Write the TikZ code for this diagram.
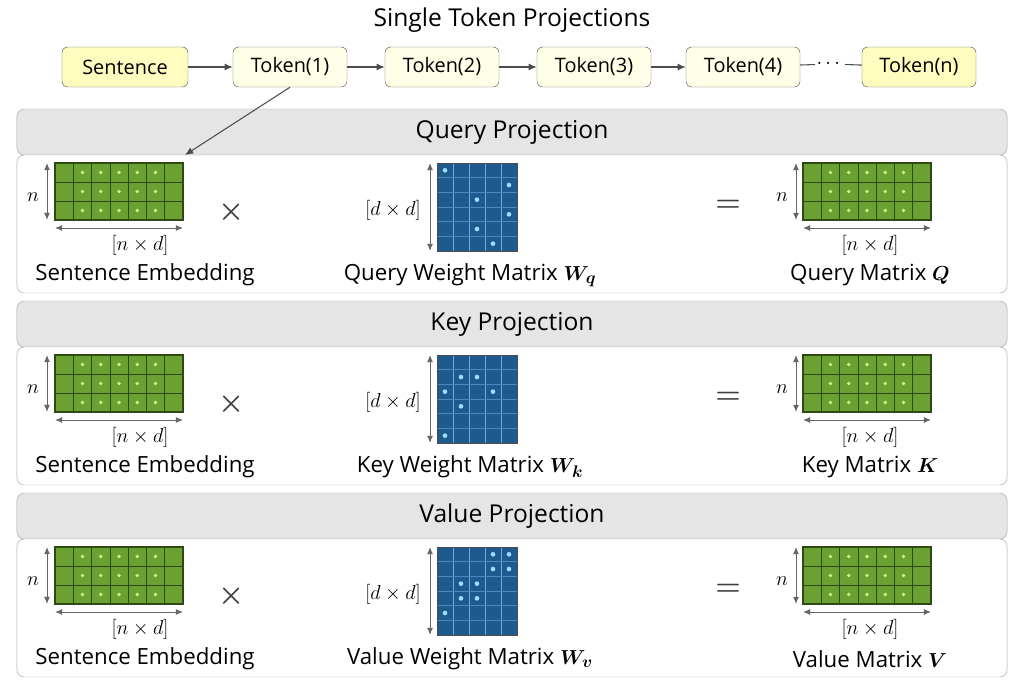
\documentclass[tikz,border=0pt]{standalone}
\usepackage{amsmath,amssymb,bm}
\usepackage{fontspec}
\setmainfont{Open Sans}
\usetikzlibrary{arrows.meta}
\definecolor{gfill}{HTML}{6BA132}
\definecolor{gline}{HTML}{2E4A14}
\definecolor{gdot}{HTML}{D8F08A}
\definecolor{bfill}{HTML}{1F5A8E}
\definecolor{bline}{HTML}{6FA6D6}
\definecolor{bdot}{HTML}{9EDCFF}
\tikzset{
 tok/.style={draw=black!60,rounded corners=5pt,fill=#1,minimum height=1.2cm,font=\fontsize{17}{20}\selectfont,inner sep=0pt},
 arr/.style={draw=black!70,line width=0.9pt,-{Latex[length=7pt,width=6pt]}},
 dim/.style={draw=black!60,line width=0.8pt,{Latex[length=6pt,width=5pt]}-{Latex[length=6pt,width=5pt]}},
 hdr/.style={draw=black!35,fill=black!10,rounded corners=6pt},
 bod/.style={draw=black!35,fill=white,rounded corners=6pt},
 ttl/.style={font=\fontsize{21}{24}\selectfont},
 lab/.style={font=\fontsize{19}{22}\selectfont},
 mlab/.style={font=\fontsize{18}{22}\selectfont},
 op/.style={font=\fontsize{28}{30}\selectfont\bfseries,text=black!75},
}
% green matrix: name, x, y(top), w, h
\newcommand\gmat[5]{%
 \coordinate (#1-nw) at (#2,#3);
 \coordinate (#1-se) at (#2+#4,#3+#5);
 \fill[gfill] (#1-nw) rectangle (#1-se);
 \foreach \i in {1,...,6} \draw[gline,line width=0.6pt] (#2+\i*#4/7,#3) -- ++(0,#5);
 \foreach \j in {1,2} \draw[gline,line width=0.6pt] (#2,#3+\j*#5/3) -- ++(#4,0);
 \draw[gline,line width=0.9pt] (#1-nw) rectangle (#1-se);
 \foreach \i in {1,...,5} \foreach \j in {0,1,2} \fill[gdot] (#2+\i*#4/7+#4/14,#3+\j*#5/3+#5/6) circle (1.6pt);
}
% blue matrix: name, x, y, dots (macro)
\newcommand\bmat[4]{%
 \coordinate (#1-nw) at (#2,#3);
 \coordinate (#1-se) at (#2+80,#3+88);
 \fill[bfill] (#1-nw) rectangle (#1-se);
 \foreach \i in {1,...,4} \draw[bline,line width=0.5pt] (#2+\i*16,#3) -- ++(0,88);
 \foreach \j in {1,...,5} \draw[bline!60!bfill,line width=0.5pt] (#2,#3+\j*88/6) -- ++(80,0);
 \draw[black!70,line width=0.6pt] (#1-nw) rectangle (#1-se);
 \foreach \a/\b in #4 \fill[bdot] (#2+\a*16+8,#3+\b*88/6+88/12) circle (2pt);
}
\begin{document}
\begin{tikzpicture}[x=0.03cm,y=-0.03cm]
\useasboundingbox (0,0) rectangle (1024,682);
\node[ttl] (title) at (512,20) {Single Token Projections};
\node[tok=yellow!25!white,minimum width=3.78cm] (s) at (125,67) {Sentence};
\node[tok=yellow!10!white,minimum width=3.42cm] (t1) at (290,67) {Token(1)};
\node[tok=yellow!10!white,minimum width=3.42cm] (t2) at (442,67) {Token(2)};
\node[tok=yellow!10!white,minimum width=3.42cm] (t3) at (594,67) {Token(3)};
\node[tok=yellow!10!white,minimum width=3.42cm] (t4) at (743,67) {Token(4)};
\node[font=\fontsize{17}{20}\selectfont,inner sep=1pt] (dots) at (830,64) {$\cdots$};
\node[tok=yellow!25!white,minimum width=3.42cm] (tn) at (919,67) {Token(n)};
\draw[arr] (s) -- (t1);
\draw[arr] (t1) -- (t2);
\draw[arr] (t2) -- (t3);
\draw[arr] (t3) -- (t4);
\draw[draw=black!70,line width=0.9pt] (t4) -- (dots);
\draw[draw=black!70,line width=0.9pt] (dots) -- (tn);
\coordinate (tgt) at (185,155);
\foreach \off/\nm/\sub/\M/\dts in {
 0/Query/q/Q/{0/0,4/1,2/2,4/3,2/4,3/5},
 192/Key/k/K/{1/1,0/2,3/2,1/3,0/5,2/1},
 384/Value/v/V/{3/0,4/0,3/1,4/1,1/2,2/2,1/3,2/3,0/4}}{
 \begin{scope}[yshift=-\off*0.03cm]
 \node[hdr,minimum width=29.7cm,minimum height=1.38cm] (h\sub) at (512,132) {};
 \node[ttl] at (h\sub) {\nm\ Projection};
 \node[bod,minimum width=29.7cm,minimum height=4.14cm] (b\sub) at (512,224) {};
 \gmat{L\sub}{55}{163}{128}{57}
 \draw[dim] (47,163) -- (47,220);
 \node[mlab] at (33,197) {$n$};
 \draw[dim] (55,228) -- (183,228);
 \node[mlab] at (140,245) {$[n\times d]$};
 \node[lab] at (145,275) {Sentence Embedding};
 \node[op] at (232,212) {$\boldsymbol{\times}$};
 \bmat{B\sub}{437}{163}{\dts}
 \draw[dim] (430,163) -- (430,251);
 \node[mlab] at (393,210) {$[d\times d]$};
 \node[lab] at (470,275) {\nm\ Weight Matrix $\bm{W_{\sub}}$};
 \node[op] at (728,206) {$\bm{=}$};
 \gmat{R\sub}{803}{163}{128}{57}
 \draw[dim] (796,163) -- (796,220);
 \node[mlab] at (782,197) {$n$};
 \draw[dim] (803,228) -- (931,228);
 \node[mlab] at (870,245) {$[n\times d]$};
 \node[lab] at (870,275) {\nm\ Matrix $\bm{\M}$};
 \end{scope}}
\draw[arr] (t1.south) -- (tgt);
\end{tikzpicture}
\end{document}
